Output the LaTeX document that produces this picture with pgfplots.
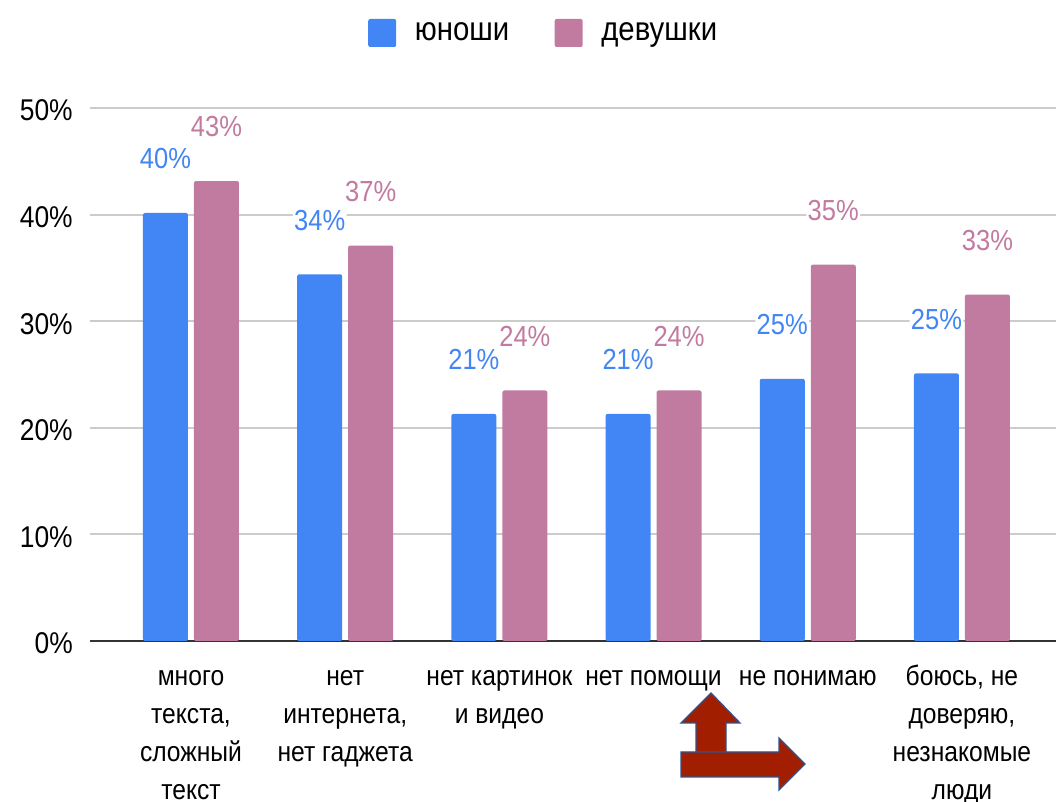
\documentclass[border=0pt]{standalone}
\usepackage{fontspec}
\setmainfont{Liberation Sans}[FakeStretch=0.88]
\usepackage{pgfplots}
\pgfplotsset{compat=1.18}
\definecolor{boys}{HTML}{4285F4}
\definecolor{girls}{HTML}{C27BA0}
\definecolor{gridc}{HTML}{CCCCCC}
\definecolor{arrowred}{HTML}{A21E00}
\definecolor{arrowedge}{HTML}{2F528F}
% category label: lines stacked, baseline = first line
\newcommand{\cat}[1]{\begin{tabular}[t]{@{}c@{}}#1\end{tabular}}

\begin{document}
\begin{tikzpicture}
% page = 1056 x 802 px, 1 px = 0.75 pt, axis origin at (90,641) px
\useasboundingbox (-67.5pt,-120.75pt) rectangle (724.5pt,480.75pt);
\begin{axis}[
    scale only axis,
    width=724.5pt, height=399.75pt,
    xmin=-0.655, xmax=5.61,
    ymin=0, ymax=50,
    clip=false,
    ybar=4.5pt, bar width=33.75pt,
    xtick={0,...,5},
    xticklabels={{\cat{много\\текста,\\сложный\\текст}},
                 {\cat{нет\\интернета,\\нет гаджета}},
                 {\cat{нет картинок\\и видео}},
                 {\cat{нет помощи}},
                 {\cat{не понимаю}},
                 {\cat{боюсь, не\\доверяю,\\незнакомые\\люди}}},
    ytick={0,10,...,50},
    yticklabel={\pgfmathprintnumber{\tick}\%},
    /pgf/number format/assume math mode=true,
    ymajorgrids,
    grid style={gridc, line width=1.5pt},
    axis line style={draw=none},
    major tick length=0pt,
    extra y ticks={0}, extra y tick labels={},
    extra y tick style={grid style={black!80, line width=1.5pt}},
    yticklabel style={font=\fontsize{22.5}{22.5}\selectfont, inner sep=0pt, xshift=-12.75pt, yshift=-2pt, anchor=east},
    xticklabel style={font=\fontsize{21}{28.5}\selectfont, anchor=base, inner sep=0pt, yshift=-33pt},
    point meta=explicit symbolic,
    nodes near coords={\vphantom{0}\pgfplotspointmeta\%},
    every node near coord/.append style={font=\fontsize{21.75}{21.75}\selectfont, anchor=center, yshift=40.5pt, fill=white, inner sep=1pt},
    legend style={draw=none, fill=none, legend columns=2, at={(0.47,1.1407)}, anchor=center,
        font=\fontsize{25}{25}\selectfont,
        /tikz/every odd column/.append style={column sep=12pt},
        /tikz/every even column/.append style={column sep=32pt}},
    legend image code/.code={\fill[#1, rounded corners=1.5pt] (0pt,-10.5pt) rectangle (21pt,10.5pt);},
]
\addplot[fill=boys, draw=none, rounded corners=1.5pt, nodes near coords style={text=boys}]
    coordinates {(0,40.15)[40] (1,34.4)[34] (2,21.3)[21] (3,21.3)[21] (4,24.6)[25] (5,25.1)[25]};
\addplot[fill=girls, draw=none, rounded corners=1.5pt, nodes near coords style={text=girls}]
    coordinates {(0,43.15)[43] (1,37.1)[37] (2,23.5)[24] (3,23.5)[24] (4,35.3)[35] (5,32.5)[33]};
\legend{юноши, девушки}
\end{axis}
% hand-drawn arrows under the labels
\filldraw[fill=arrowred, draw=arrowedge, line width=1pt]
    (454.5pt,-83.25pt) -- (454.5pt,-61.5pt) -- (443.25pt,-61.5pt) -- (465.75pt,-39pt)
    -- (487.5pt,-61.5pt) -- (477pt,-61.5pt) -- (477pt,-83.25pt) -- cycle;
\filldraw[fill=arrowred, draw=arrowedge, line width=1pt]
    (443.25pt,-83.25pt) -- (516.75pt,-83.25pt) -- (516.75pt,-72.75pt) -- (536.25pt,-92.25pt)
    -- (516.75pt,-111.75pt) -- (516.75pt,-102pt) -- (443.25pt,-102pt) -- cycle;
\end{tikzpicture}
\end{document}
